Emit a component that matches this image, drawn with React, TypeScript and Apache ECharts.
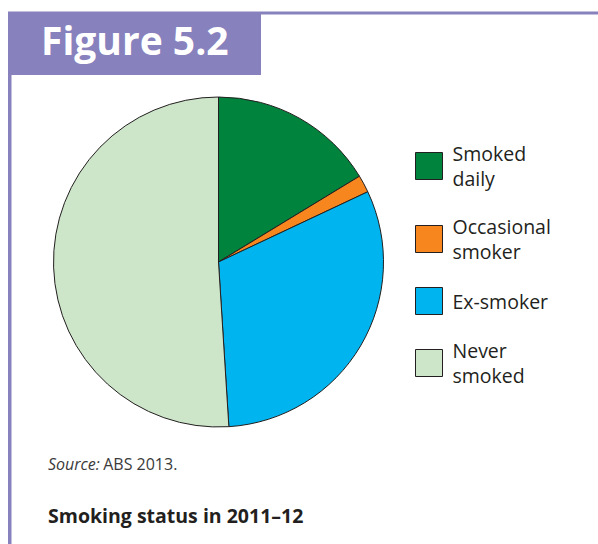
import React, { useEffect, useRef } from "react";
import * as echarts from "echarts";

const categories = ["Smoked\ndaily", "Occasional\nsmoker", "Ex-smoker", "Never\nsmoked"];
const values = [16.3, 1.7, 31.0, 51.0];
const colors = ["#00843D", "#F7861F", "#00B5EF", "#CDE5C8"];
const figureLabel = "Figure 5.2";
const sourceText = "ABS 2013.";
const chartTitle = "Smoking status in 2011–12";

export default function App() {
  const ref = useRef<HTMLDivElement>(null);
  useEffect(() => {
    if (!ref.current) return;
    const chart = echarts.init(ref.current, null, { renderer: "svg" });
    const purple = "#8781BD";
    chart.setOption({
      animation: false,
      backgroundColor: "#ffffff",
      legend: {
        orient: "vertical",
        left: 410,
        top: 136,
        itemWidth: 27,
        itemHeight: 27,
        itemGap: 23,
        icon: "rect",
        selectedMode: false,
        data: categories,
        textStyle: {
          fontFamily: "Open Sans",
          fontSize: 19.5,
          lineHeight: 25,
          color: "#231F20",
          padding: [0, 0, 0, 5],
        },
        itemStyle: { borderColor: "#231F20", borderWidth: 1 },
      },
      series: [
        {
          type: "pie",
          center: [218.5, 262],
          radius: 165,
          startAngle: 90,
          clockwise: true,
          label: { show: false },
          labelLine: { show: false },
          emphasis: { disabled: true },
          itemStyle: { borderColor: "#231F20", borderWidth: 1 },
          data: categories.map((c, i) => ({
            name: c,
            value: values[i],
            itemStyle: { color: colors[i] },
          })),
        },
      ],
      graphic: [
        { type: "rect", shape: { x: 261, y: 11.5, width: 337, height: 3 }, style: { fill: purple } },
        { type: "rect", shape: { x: 8, y: 11.5, width: 253, height: 63.5 }, style: { fill: purple } },
        { type: "rect", shape: { x: 8, y: 74, width: 3.5, height: 470 }, style: { fill: purple } },
        {
          type: "text",
          left: 41,
          top: 20,
          style: {
            text: figureLabel,
            fill: "#ffffff",
            font: "bold 39px 'Open Sans'",
          },
        },
        {
          type: "text",
          left: 48,
          top: 456,
          style: {
            text: "{i|Source:} {n|" + sourceText + "}",
            rich: {
              i: { fontStyle: "italic", fontFamily: "Open Sans", fontSize: 16, fill: "#3a3a3a" },
              n: { fontFamily: "Open Sans", fontSize: 16, fill: "#3a3a3a" },
            },
          },
        },
        {
          type: "text",
          left: 48,
          top: 505,
          style: {
            text: chartTitle,
            fill: "#231F20",
            font: "bold 19.5px 'Open Sans'",
          },
        },
      ],
    });
    return () => chart.dispose();
  }, []);
  return (
    <div
      ref={ref}
      style={{ position: "absolute", left: 0, top: 0, width: 598, height: 544 }}
    />
  );
}
